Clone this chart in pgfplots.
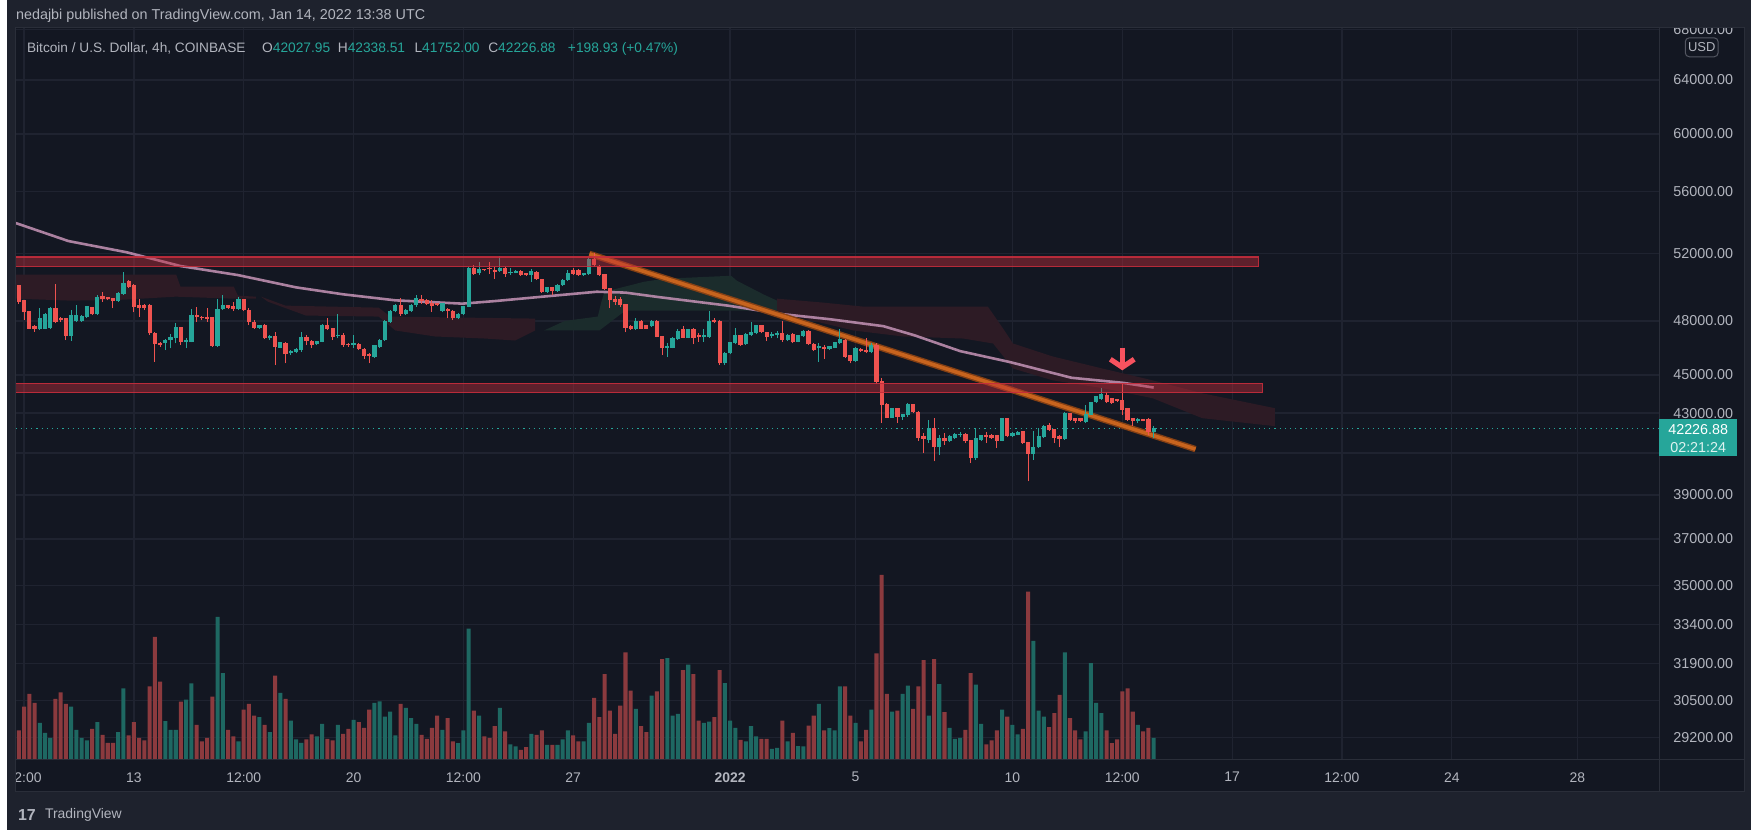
\documentclass[border=0pt]{standalone}
\usepackage{fontspec}
\setmainfont{Liberation Sans}
\usepackage{pgfplots}
\pgfplotsset{compat=1.18}
\usepackage{pgfplotstable}
\usetikzlibrary{arrows.meta}

\definecolor{outerbg}{HTML}{1E222D}
\definecolor{chartbg}{HTML}{131722}
\definecolor{gridc}{HTML}{1F2330}
\definecolor{borderc}{HTML}{2A2E39}
\definecolor{txt}{HTML}{B2B5BE}
\definecolor{upc}{HTML}{26A69A}
\definecolor{downc}{HTML}{EF5350}
\definecolor{volup}{HTML}{1E6862}
\definecolor{voldown}{HTML}{8B3A3E}
\definecolor{zonec}{HTML}{C62D3C}
\definecolor{trendc}{HTML}{8A4214}
\definecolor{trendl}{HTML}{C8641E}
\definecolor{mac}{HTML}{BC8DAE}
\definecolor{cloudred}{HTML}{2D1B25}
\definecolor{cloudgreen}{HTML}{1B2C2C}
\definecolor{arrowc}{HTML}{F7525F}

\newcommand\fs[1]{\fontsize{#1}{#1}\selectfont}

\pgfplotstableread{
o h l c v
50049 50089 49004 49100 1147
49196 49234 48046 48487 2107
48525 48563 47530 47567 2613
47663 47759 47381 47530 2253
47530 48717 47474 48142 1453
47567 48429 47530 48372 1053
47605 48774 47567 48717 853
48717 50149 47854 47950 2413
48142 48238 47950 48046 2680
48142 48180 46916 47158 2213
47158 48621 46860 48334 2107
47989 48909 47950 48334 1173
47989 48334 47950 48238 853
48238 48870 48180 48813 747
48774 48813 48334 48372 1213
48372 49492 48334 49332 1480
49392 49691 49100 49292 973
49332 49392 49196 49254 653
49292 49332 48717 49139 653
49139 49691 49100 49591 1080
49591 50885 49532 50189 2840
50288 50388 49930 49990 947
50089 50149 48487 48813 1480
48909 49292 48238 48755 853
48909 48966 48621 48717 747
48909 49004 47195 47288 2920
47288 47344 45716 46674 4907
46730 46786 46544 46637 3107
46730 46972 46358 46916 1520
46916 47232 46451 47065 1173
47009 47854 46730 47605 1173
47605 47663 46637 46823 2307
46786 47009 46451 46916 2387
46823 48678 46786 48334 3040
48334 48813 47950 48238 1373
48219 48295 48046 48142 707
48180 48717 47950 48104 853
48180 48238 46544 46600 2507
46600 49292 46544 48678 5707
48678 49492 48621 48909 3453
48870 48909 48678 48755 1173
48813 49100 48563 48678 907
48678 49392 48621 49234 707
49234 49292 48563 48621 1987
48621 48717 47759 47950 2213
47893 48046 47567 47605 1747
47605 47759 47567 47720 1680
47759 47797 46972 47009 1373
47009 47195 46916 47139 1080
47102 47381 45537 46544 3347
46488 46823 46451 46767 2653
46730 46823 45626 46116 2413
46172 46358 46079 46302 1547
46265 46451 46172 46414 787
46358 47344 46265 47046 653
47046 47195 46637 46860 787
46860 46916 46451 46637 987
46674 46860 46637 46823 907
46823 47797 46786 47720 1413
47720 48142 47474 47530 813
47567 47605 46916 47102 747
47139 48372 47009 47195 1373
47195 47288 46544 46637 1013
46674 46730 46544 46618 1213
46660 47195 46451 46720 1573
46674 46730 46358 46414 1480
46414 46451 45894 46042 1253
46116 46172 45626 46042 1987
45986 46637 45949 46600 2253
46544 46972 46488 46916 2320
46916 48046 46860 47950 1707
47950 48621 47893 48563 1907
48563 49004 48487 48870 947
48909 49332 48295 48372 2213
48372 48678 48334 48621 2053
48563 48966 48525 48909 1640
48909 49532 48813 49292 1413
49234 49492 49004 49139 973
49196 49254 48909 48966 813
49004 49196 48525 48870 1253
49004 49062 48851 48909 1747
48582 49062 48525 49004 1173
48659 48717 48142 48582 1640
48563 48621 48046 48142 707
48142 48429 48104 48372 640
48372 48870 48334 48813 1147
48813 51188 48774 51126 5240
51126 51292 50726 50785 1947
50825 51499 50686 51024 1747
51044 51084 50925 50984 907
51126 51499 50785 51044 853
50984 51188 50487 50885 1320
50925 51851 50885 51126 2053
51126 51188 50586 50785 1107
50805 51126 50726 50885 587
50845 50984 50805 50944 507
50944 50984 50646 50686 373
50785 50845 50646 50686 480
50686 51084 50288 50944 1013
50885 50944 50388 50447 973
50447 50487 49631 49691 1147
49691 49990 49631 49930 573
49930 49990 49492 49731 573
49751 50149 49691 50089 573
50089 50447 50049 50388 787
50388 50984 50328 50785 1147
50984 51126 50726 50785 947
50984 51044 50646 50686 707
50686 50845 50646 50785 707
50785 51800 50726 51650 1453
51650 52079 51188 51292 2453
51250 51292 50646 50686 1680
50726 50785 49831 49890 3413
49890 49930 48717 49196 1947
49254 49452 48909 49100 1013
49254 49392 48813 48947 2147
48947 49004 47344 47605 4280
47682 47759 47474 47530 2747
47530 48180 47474 47989 2013
47989 48046 47530 47567 1320
47720 47759 47530 47567 1080
47682 48046 47644 47989 2547
47989 48046 47065 47102 2720
47102 47139 46079 46451 4013
46451 46730 45986 46544 4053
46488 47065 46451 47009 1747
46972 47567 46916 47418 1813
47530 47720 47009 47046 3573
47046 47567 47009 47530 3787
47530 47605 46674 47046 3413
47158 47288 46823 47083 1547
47102 47567 46823 47195 1453
47102 48563 47046 47950 1507
48046 48142 47854 47950 1680
47950 48046 45537 45626 3573
45626 46265 45537 46172 3053
46172 46823 46116 46786 1547
46730 47605 46674 47195 1253
47158 47195 46600 46637 773
46674 47288 46637 47232 707
47195 47950 47158 47344 1320
47288 47759 47232 47720 907
47720 47759 47288 47344 813
47344 47381 46860 47102 813
47140 47381 47009 47200 413
47195 47418 47009 47288 453
47288 47989 46823 46916 1547
46916 47232 46860 47195 707
47232 47288 46730 46786 1053
46823 47195 46786 47158 520
47121 47474 47083 47418 507
47418 47474 46637 46674 1347
46674 46730 46302 46358 1747
46451 46730 45716 46544 2213
46507 46637 45894 46395 1147
46414 46600 46358 46544 1240
46488 46823 46451 46786 1147
46730 47530 46674 46953 2920
46916 46972 45930 45986 2920
46042 46079 45626 45751 1747
45751 46507 45716 46451 1453
46414 46451 46265 46302 707
46358 47046 46172 46265 1173
46265 46730 46172 46637 1987
46637 46730 44500 44600 4240
44642 44819 42486 43424 7400
43424 43511 42739 42773 2613
42773 43251 42739 43217 1907
43217 43251 42486 42824 1947
42824 42961 42655 42910 2613
42910 43511 42824 43424 2947
43424 43460 42995 43046 2013
43046 43100 41603 41734 2920
41817 41984 40999 41701 3973
41652 42655 41488 42234 1747
42234 42739 40593 41275 4013
41275 41867 40917 41734 3013
41734 41984 41406 41570 1880
41570 41867 41521 41817 1253
41734 41984 41701 41934 813
41867 42034 41767 41934 853
41934 41967 41488 41570 1173
41603 41652 40512 40755 3453
40755 42234 40674 41734 2987
41652 41901 41603 41867 1413
41867 42034 41488 41767 587
41867 41934 41701 41734 747
41867 41901 41242 41603 1147
41603 42773 41570 42705 1987
42705 42739 41767 41817 1707
41817 42034 41767 41967 1373
41901 42068 41867 42034 987
42068 42101 41438 41488 1213
41488 41520 39637 40950 6720
40950 42068 40674 41275 4747
41275 42234 41242 41817 1947
41767 42369 41734 42318 1707
42369 42486 42068 42151 1280
42151 42185 41488 41734 1840
41817 41867 41275 41701 2573
41701 43046 41652 42995 4280
42961 42995 42604 42655 1640
42739 42773 42486 42604 1147
42705 42739 42537 42571 787
42537 43424 42486 42910 1107
42910 43597 42876 43562 3853
43562 43890 43528 43856 2253
43735 44323 43684 43943 1840
43908 44111 43511 43597 1147
43770 43804 43476 43511 640
43700 43718 43597 43630 787
43632 44500 42910 43166 2720
43217 43251 42604 42655 2840
42739 42773 42318 42571 1907
42604 42739 42486 42672 1373
42655 42705 42571 42604 1107
42655 42739 41867 42028 1253
42027.95 42338.51 41752.00 42226.88 853
}\candles

\pgfplotsset{
  chartframe/.style={at={(4.5pt,35.5pt)}, anchor=south west, scale only axis,
    width=825pt, height=367pt, xmin=-0.6, xmax=313.7},
  upsel/.style={restrict expr to domain={\thisrow{c}-\thisrow{o}}{0:100000}},
  downsel/.style={restrict expr to domain={\thisrow{c}-\thisrow{o}}{-100000:-0.001}},
  nomark/.style={only marks, mark=*, mark size=0pt, mark options={draw opacity=0, fill opacity=0}},
}

\begin{document}
\begin{tikzpicture}[x=0.5pt,y=0.5pt]
\fill[outerbg] (0,0) rectangle (1751,833);
\fill[chartbg] (9,38) rectangle (1744,805);

% ---------- axis 1: grid, tick labels, Ichimoku cloud
\begin{axis}[chartframe,
  ymode=log, ymin=28458, ymax=68116,
  axis line style={draw=none}, major tick length=0pt,
  ytick={29200,30500,31900,33400,35000,37000,39000,41000,43000,45000,48000,52000,56000,60000,64000,68000},
  yticklabels={\mbox{29200.00},\mbox{30500.00},\mbox{31900.00},\mbox{33400.00},\mbox{35000.00},\mbox{37000.00},\mbox{39000.00},{},\mbox{43000.00},\mbox{45000.00},\mbox{48000.00},\mbox{52000.00},\mbox{56000.00},\mbox{60000.00},\mbox{64000.00},\mbox{68000.00}},
  ytick pos=right, yticklabel pos=right,
  yticklabel style={font=\fs{7.2}, text=txt, anchor=west, xshift=3.5pt},
  xtick={1,22,43,64,85,106,136,160,190,211,232,253,274,298},
  xticklabels={\mbox{12:00},\mbox{13},\mbox{12:00},\mbox{20},\mbox{12:00},\mbox{27},\mbox{\bfseries 2022},\mbox{5},\mbox{10},\mbox{12:00},\mbox{17},\mbox{12:00},\mbox{24},\mbox{28}},
  xticklabel style={font=\fs{7}, text=txt, yshift=-3.2pt},
  grid=major, major grid style={draw=gridc, line width=0.6pt},
]
\addplot[fill=cloudred, draw=none] coordinates {(-0.6,50719) (30.1,50719) (30.9,50001) (41.1,50001) (41.9,49468) (45.3,49410) (45.3,49292) (41,49292) (30,49410) (20,49230) (10,49175) (-0.6,49292)};
\addplot[fill=cloudred, draw=none] coordinates {(46.3,49410) (51,48884) (68.8,48768) (71,48250) (98.7,48134) (98.7,47454) (94.9,46890) (89.1,47002) (79.6,47115) (72,47454) (68.8,48250) (54.9,48307) (47.6,49117)};
\addplot[fill=cloudgreen, draw=none] coordinates {(100.4,47454) (104.4,48000) (110.7,48250) (111.4,49117) (112,49701) (119.6,50300) (123.4,50478) (136.2,50659) (137.3,50360) (142.5,49526) (145,49175) (145,48600) (116,48600) (111,47454)};
\addplot[fill=cloudred, draw=none] coordinates {(145,49292) (153.9,49058) (161.5,48826) (185.3,48826) (188.2,47567) (190.1,46723) (197.7,46005) (207.2,45350) (216.8,44713) (226.3,44029) (240.2,43251) (240.2,42335) (226.3,42739) (216.8,43770) (207.2,44300) (197.7,44713) (190.1,45350) (186.3,46723) (180.6,47002) (169.1,47115) (159.6,47454) (150.1,48134) (145,48595)};
\end{axis}

% ---------- axis 2: volume
\begin{axis}[chartframe, ymin=0, ymax=29360, hide axis]
\addplot[ybar, bar width=0.77, bar shift=0pt, fill=volup, draw=none, upsel]
  table[x expr=\coordindex, y=v] {\candles};
\addplot[ybar, bar width=0.77, bar shift=0pt, fill=voldown, draw=none, downsel]
  table[x expr=\coordindex, y=v] {\candles};
\end{axis}

% ---------- axis 3: price overlays and candles
\begin{axis}[chartframe, ymode=log, ymin=28458, ymax=68116, hide axis]
\addplot[mac, line width=1.3pt, opacity=0.9] coordinates {(-0.6,53950) (9.5,52800) (20.6,52100) (30.9,51250) (41.9,50700) (53,49960) (62,49550) (72,49193) (84.8,49000) (91,49150) (100.5,49420) (110.5,49700) (116,49650) (122.2,49391) (135.6,48883) (146.3,48380) (155,48100) (165.3,47700) (171.2,47188) (180,46300) (189.5,45700) (201.3,44850) (211.2,44580) (217,44330)};
\addplot[upc, dotted, line width=0.6pt] coordinates {(-0.6,42226.88) (313.7,42226.88)};
\addplot[trendc, line width=3.2pt, opacity=0.95] coordinates {(109.1,52000) (225,41190)};
\addplot[trendl, line width=1.8pt] coordinates {(109.1,52000) (225,41190)};
\addplot[nomark, upc, upsel,
  error bars/.cd, y dir=plus, y explicit, error mark=none, error bar style={line width=0.5pt}]
  table[x expr=\coordindex, y=l, y error plus expr=\thisrow{h}-\thisrow{l}] {\candles};
\addplot[nomark, downc, downsel,
  error bars/.cd, y dir=plus, y explicit, error mark=none, error bar style={line width=0.5pt}]
  table[x expr=\coordindex, y=l, y error plus expr=\thisrow{h}-\thisrow{l}] {\candles};
\addplot[nomark, upc, upsel,
  error bars/.cd, y dir=plus, y explicit, error mark=none, error bar style={line width=2.1pt}]
  table[x expr=\coordindex, y=o, y error plus expr=\thisrow{c}-\thisrow{o}+30] {\candles};
\addplot[nomark, downc, downsel,
  error bars/.cd, y dir=plus, y explicit, error mark=none, error bar style={line width=2.1pt}]
  table[x expr=\coordindex, y=c, y error plus expr=\thisrow{o}-\thisrow{c}+30] {\candles};
\addplot[fill=zonec, fill opacity=0.42, draw=zonec, draw opacity=0.9, line width=0.7pt]
  coordinates {(-5,51800) (-5,51240) (237,51240) (237,51800) (-5,51800)};
\addplot[fill=zonec, fill opacity=0.42, draw=zonec, draw opacity=0.9, line width=0.7pt]
  coordinates {(-5,44560) (-5,44063) (237.8,44063) (237.8,44560) (-5,44560)};
\draw[arrowc, line width=2.6pt, -{Straight Barb[length=4pt,width=12pt]}] (axis cs:211,46500) -- (axis cs:211,45250);
\end{axis}

% ---------- frame and panels
\fill[outerbg] (0,805) rectangle (1751,833);
\fill[outerbg] (0,0) rectangle (9,805);
\fill[outerbg] (1744,0) rectangle (1751,833);
\fill[outerbg] (0,0) rectangle (1751,38);
\draw[borderc, line width=0.5pt] (9,38) rectangle (1744,805);
\draw[borderc, line width=0.5pt] (1659,38) -- (1659,805);
\draw[borderc, line width=0.5pt] (9,71) -- (1744,71);

\fill[upc] (1659,375) rectangle (1737,412);
\node[font=\fs{7.2}, text=white] at (1698,402) {42226.88};
\node[font=\fs{7.2}, text=white!85!upc] at (1698,384) {02:21:24};
\draw[borderc!70!txt, rounded corners=2pt, line width=0.5pt] (1685,776) rectangle (1718,795);
\node[font=\fs{6.5}, text=txt] at (1701.5,785.5) {USD};

\node[anchor=base west, font=\fs{7.2}, text=txt, inner sep=0] at (9,813.5) {nedajbi published on TradingView.com, Jan 14, 2022 13:38 UTC};
\node[anchor=base west, font=\fs{6.85}, text=txt, inner sep=0] at (20,780) {Bitcoin / U.S. Dollar, 4h, COINBASE};
\node[anchor=base west, font=\fs{6.9}, inner sep=0] at (256,780) {\textcolor{txt}{O}\textcolor{upc}{42027.95}};
\node[anchor=base west, font=\fs{6.9}, inner sep=0] at (332,780) {\textcolor{txt}{H}\textcolor{upc}{42338.51}};
\node[anchor=base west, font=\fs{6.9}, inner sep=0] at (409,780) {\textcolor{txt}{L}\textcolor{upc}{41752.00}};
\node[anchor=base west, font=\fs{6.9}, inner sep=0] at (483,780) {\textcolor{txt}{C}\textcolor{upc}{42226.88}};
\node[anchor=base west, font=\fs{6.9}, text=upc, inner sep=0] at (563,780) {+198.93 (+0.47\%)};

\node[anchor=west, font=\bfseries\fs{8}, text=txt, inner sep=0] at (11,15) {17};
\node[anchor=west, font=\fs{7}, text=txt, inner sep=0] at (38,15) {TradingView};
\end{tikzpicture}
\end{document}
